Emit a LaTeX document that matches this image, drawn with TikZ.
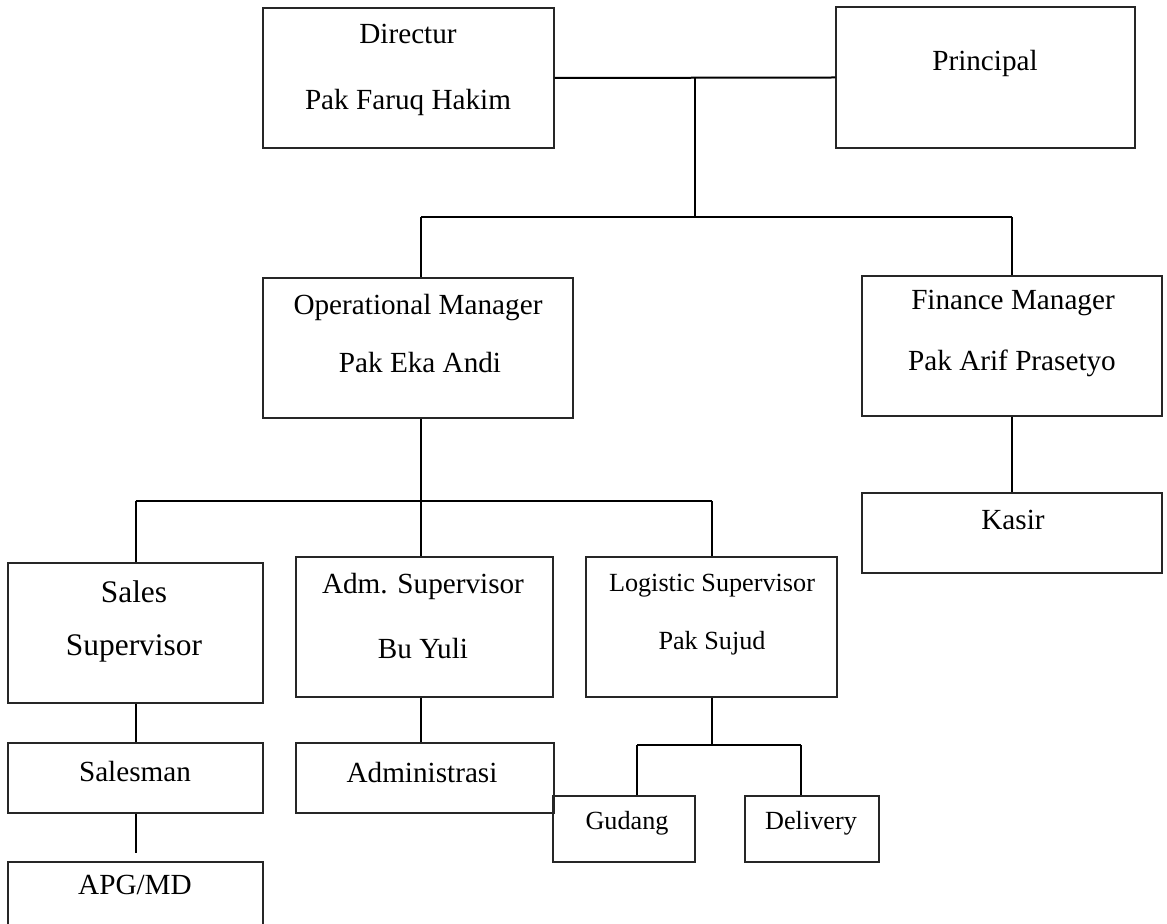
\documentclass[tikz,border=0pt]{standalone}
\usepackage{fontspec}
\setmainfont{Liberation Serif}
\usetikzlibrary{fit}

\begin{document}
\begin{tikzpicture}[x=0.5pt, y=-0.5pt,
    box/.style={draw=black!85, line width=0.7pt, inner sep=0pt},
    txt/.style={inner sep=0pt, font=\fontsize{14.6}{17}\selectfont},
    txtsmall/.style={inner sep=0pt, font=\fontsize{13.1}{15}\selectfont},
    txtbig/.style={inner sep=0pt, font=\fontsize{15.7}{18}\selectfont},
    link/.style={line width=1pt}]
    \useasboundingbox (0,0) rectangle (1167,924);
    \clip (0,0) rectangle (1167,924);

    % Top row of boxes
    \node[box, fit={(263,8) (554,148)}] (dir) {};
    \node[box, fit={(836,7) (1135,148)}] (prin) {};
    \node[txt] (dirT) at (408,34) {Directur};
    \node[txt] (dirN) at (408,102) {Pak Faruq Hakim};
    \node[txt] (prinT) at (985,63) {Principal};

    % Managers
    \node[box, fit={(263,278) (573,418)}] (op) {};
    \node[box, fit={(862,276) (1162,416)}] (fin) {};
    \node[box, fit={(862,493) (1162,573)}] (kas) {};
    \node[txt] (opT) at (418,308) {Operational Manager};
    \node[txt] (opN) at (420,363) {Pak Eka Andi};
    \node[txt] (finT) at (1013,303) {Finance Manager};
    \node[txt] (finN) at (1012,363) {Pak Arif Prasetyo};
    \node[txt] (kasT) at (1013,520) {Kasir};

    % Supervisors
    \node[box, fit={(8,563) (263,703)}] (sal) {};
    \node[box, fit={(296,557) (553,697)}] (adm) {};
    \node[box, fit={(586,557) (837,697)}] (log) {};
    \node[txtbig] (salT) at (134,592) {Sales};
    \node[txtbig] (salN) at (134,648) {Supervisor};
    \node[txt] (admT) at (423,586) {Adm. Supervisor};
    \node[txt] (admN) at (423,649) {Bu Yuli};
    \node[txtsmall] (logT) at (712,586) {Logistic Supervisor};
    \node[txtsmall] (logN) at (712,643) {Pak Sujud};

    % Staff
    \node[box, fit={(8,743) (263,813)}] (sman) {};
    \node[box, fit={(8,862) (263,940)}] (apg) {};
    \node[box, fit={(296,743) (554,813)}] (admin) {};
    \node[box, fit={(553,796) (695,862)}] (gud) {};
    \node[box, fit={(745,796) (879,862)}] (del) {};
    \node[txt] (smanT) at (135,772) {Salesman};
    \node[txt] (apgT) at (135,885) {APG/MD};
    \node[txt] (adminT) at (422,773) {Administrasi};
    \node[txtsmall] (gudT) at (627,823) {Gudang};
    \node[txtsmall] (delT) at (811,823) {Delivery};

    % Lines between boxes
    \coordinate (topMid) at (695,217);
    \coordinate (opMid) at (421,501);
    \draw[link] (dir.east) -- (prin.west);
    \draw[link] (topMid |- dir.east) -- (topMid);
    \draw[link] (opMid |- topMid) -- (fin.north |- topMid);
    \draw[link] (opMid |- topMid) -- (op.north -| opMid);
    \draw[link] (fin.north |- topMid) -- (fin.north);
    \draw[link] (fin.south) -- (kas.north);

    \draw[link] (op.south -| opMid) -- (adm.north -| opMid);
    \draw[link] (sal.north |- opMid) -- (log.north |- opMid);
    \draw[link] (sal.north |- opMid) -- (sal.north);
    \draw[link] (log.north |- opMid) -- (log.north);

    \draw[link] (sal.south) -- (sman.north);
    \draw[link, shorten >=4pt] (sman.south) -- (apg.north);
    \draw[link] (adm.south -| opMid) -- (admin.north -| opMid);

    \coordinate (gudTop) at (637,745);
    \coordinate (delTop) at (801,745);
    \draw[link] (log.south) -- (log.south |- gudTop);
    \draw[link] (gudTop) -- (delTop);
    \draw[link] (gudTop) -- (gudTop |- gud.north);
    \draw[link] (delTop) -- (delTop |- del.north);
\end{tikzpicture}
\end{document}
